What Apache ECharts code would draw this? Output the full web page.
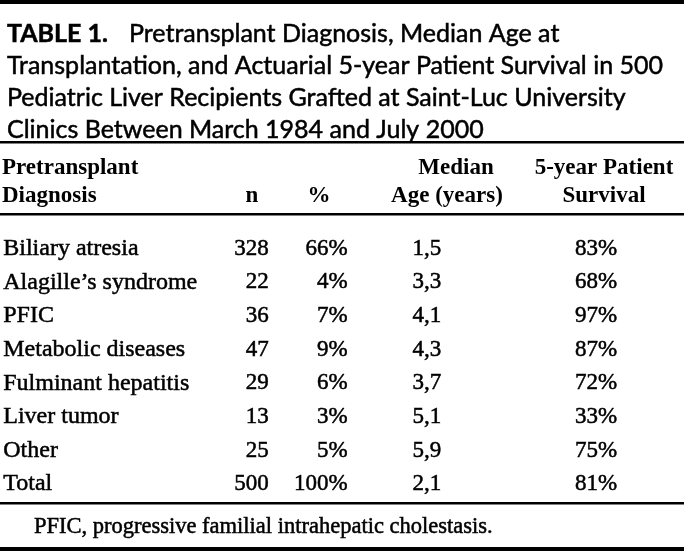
<!DOCTYPE html>
<html>
<head>
<meta charset="utf-8">
<script src="https://cdn.jsdelivr.net/npm/echarts@6/dist/echarts.min.js"></script>
<style>html,body{margin:0;padding:0;background:#fff}#c{width:684px;height:551px}</style>
</head>
<body>
<div id="c"></div>
<script>
// ---- data ----
const diagnoses = ['Biliary atresia', 'Alagille\u2019s syndrome', 'PFIC', 'Metabolic diseases', 'Fulminant hepatitis', 'Liver tumor', 'Other', 'Total'];
const nValues = [328, 22, 36, 47, 29, 13, 25, 500];
const pctValues = [66, 4, 7, 9, 6, 3, 5, 100];
const medianAge = [1.5, 3.3, 4.1, 4.3, 3.7, 5.1, 5.9, 2.1];
const survival5y = [83, 68, 97, 87, 72, 33, 75, 81];
const headerTop = ['Pretransplant', '', '', 'Median', '5-year Patient'];
const headerBottom = ['Diagnosis', 'n', '%', 'Age (years)', 'Survival'];
const titleBold = 'TABLE 1.';
const titleText = ['Pretransplant Diagnosis, Median Age at', 'Transplantation, and Actuarial 5-year Patient Survival in 500', 'Pediatric Liver Recipients Grafted at Saint-Luc University', 'Clinics Between March 1984 and July 2000'];
const footnote = 'PFIC, progressive familial intrahepatic cholestasis.';

// ---- layout ----
const W = 684;
const SERIF = '"Liberation Serif","Times New Roman",serif';
const SANS = 'Lato,"Liberation Sans",sans-serif';
const colAnchor = { n: 268, pct: 347, age: 412, surv: 617 };
const headerTopX = [2, 0, 0, 456, 604];
const headerBottomX = [2, 252, 319, 447, 604];
const headerAlign = ['left', 'center', 'center', 'center', 'center'];
const FS = 23;
const INK = '#000';
const HEAVY = 0.5;

const chart = echarts.init(document.getElementById('c'), null, { renderer: 'canvas' });

function colSeries(key, vals, fmt, align) {
  return {
    type: 'custom', silent: true,
    data: vals.map((v, i) => [colAnchor[key], i, v]),
    renderItem: (params, api) => {
      const pt = api.coord([api.value(0), api.value(1)]);
      return {
        type: 'text', x: pt[0], y: pt[1],
        style: { text: fmt(api.value(2)), font: FS + 'px ' + SERIF, fill: INK, stroke: INK, lineWidth: HEAVY, align: align, verticalAlign: 'middle' }
      };
    }
  };
}

const graphics = [];
// rules
[[0, 4], [141, 2.5], [213, 2.5], [502, 2.5], [547, 4]].forEach(([y, h]) => {
  graphics.push({ type: 'rect', left: 0, top: y, shape: { width: W, height: h }, style: { fill: INK }, silent: true });
});
// headers
headerTop.forEach((t, i) => {
  if (!t) return;
  graphics.push({ type: 'text', x: headerTopX[i], y: 168, style: { text: t, font: 'bold ' + FS + 'px ' + SERIF, fill: INK, align: headerAlign[i], verticalAlign: 'middle' } });
});
headerBottom.forEach((t, i) => {
  graphics.push({ type: 'text', x: headerBottomX[i], y: 196, style: { text: t, font: 'bold ' + FS + 'px ' + SERIF, fill: INK, align: headerAlign[i], verticalAlign: 'middle' } });
});
// footnote
graphics.push({ type: 'text', x: 34, y: 527, style: { text: footnote, font: '22.5px ' + SERIF, fill: INK, stroke: INK, lineWidth: HEAVY, align: 'left', verticalAlign: 'middle' } });

chart.setOption({
  animation: false,
  backgroundColor: '#fff',
  title: {
    left: 2, top: 13,
    text: '{b|' + titleBold + '}{s|}' + titleText[0] + '\n' + titleText.slice(1).join('\n'),
    textStyle: {
      fontFamily: SANS, fontSize: 25, fontWeight: 'normal', color: INK, lineHeight: 32,
      textBorderColor: INK, textBorderWidth: HEAVY,
      rich: { b: { fontFamily: SANS, fontSize: 25, fontWeight: 'bold', color: INK, lineHeight: 32 }, s: { width: 21, lineHeight: 32 } }
    }
  },
  grid: { left: 0, right: 0, top: 232, bottom: 50, containLabel: false },
  xAxis: { type: 'value', min: 0, max: W, show: false },
  yAxis: {
    type: 'category', data: diagnoses, inverse: true,
    axisLine: { show: false }, axisTick: { show: false }, splitLine: { show: false },
    axisLabel: { inside: true, margin: 2, align: 'left', fontFamily: SERIF, fontSize: 24, color: INK, textBorderColor: INK, textBorderWidth: HEAVY }
  },
  series: [
    colSeries('n', nValues, v => String(v), 'right'),
    colSeries('pct', pctValues, v => v + '%', 'right'),
    colSeries('age', medianAge, v => Number(v).toFixed(1).replace('.', ','), 'left'),
    colSeries('surv', survival5y, v => v + '%', 'right')
  ],
  graphic: graphics
});
</script>
</body>
</html>
